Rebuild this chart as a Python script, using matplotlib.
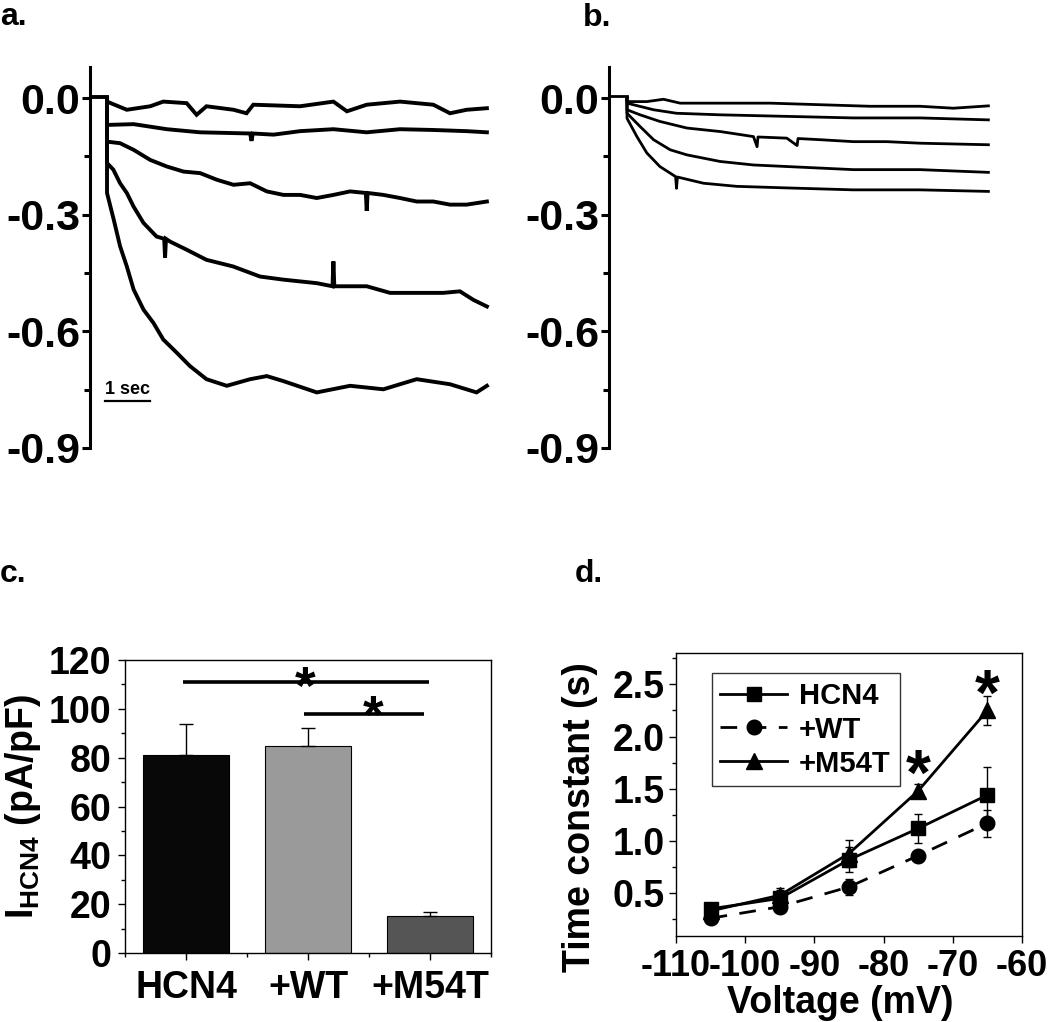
import numpy as np
import matplotlib
matplotlib.use("Agg")
import matplotlib.pyplot as plt
from matplotlib.ticker import MultipleLocator, FixedLocator

plt.rcParams['font.family'] = ['Liberation Sans', 'DejaVu Sans']
plt.rcParams['font.weight'] = 'bold'
plt.rcParams['axes.unicode_minus'] = False
plt.rcParams['mathtext.fontset'] = 'custom'
plt.rcParams['mathtext.rm'] = 'Liberation Sans:bold'
plt.rcParams['mathtext.bf'] = 'Liberation Sans:bold'

# ---------------- data ----------------
# panel a: current traces (time in s, current in nA), HCN4 alone
a_base_t = [-0.33, 0.0]
a_base_i = [0.004, 0.004]
a1_t = [0, 0, 0.44, 0.96, 1.25, 1.77, 1.99, 2.21, 2.81, 3.10, 3.25, 4.29, 5.03, 5.33, 5.77, 6.51, 7.25, 7.62, 7.99, 8.44]
a1_i = [0, -0.009, -0.030, -0.021, -0.009, -0.013, -0.043, -0.021, -0.030, -0.039, -0.017, -0.021, -0.009, -0.034, -0.017, -0.009, -0.017, -0.039, -0.030, -0.026]
a2_t = [0, 0, 0.59, 1.33, 2.07, 3.18, 3.21, 3.24, 3.70, 4.29, 5.03, 5.77, 6.51, 7.25, 7.99, 8.44]
a2_i = [0, -0.069, -0.067, -0.080, -0.088, -0.091, -0.110, -0.091, -0.094, -0.085, -0.080, -0.088, -0.080, -0.082, -0.085, -0.088]
a3_t = [0, 0, 0.29, 0.59, 0.96, 1.33, 1.70, 2.07, 2.44, 2.81, 3.18, 3.55, 3.92, 4.29, 4.66, 5.03, 5.40, 5.75, 5.77, 5.79, 6.14, 6.51, 6.88, 7.25, 7.62, 7.99, 8.44]
a3_i = [0, -0.112, -0.116, -0.133, -0.159, -0.176, -0.189, -0.193, -0.210, -0.223, -0.219, -0.240, -0.249, -0.249, -0.257, -0.249, -0.240, -0.244, -0.290, -0.244, -0.249, -0.257, -0.266, -0.266, -0.274, -0.274, -0.266]
a4_t = [0, 0, 0.14, 0.29, 0.44, 0.59, 0.81, 1.10, 1.27, 1.29, 1.31, 1.40, 1.77, 2.21, 2.80, 3.40, 3.92, 4.66, 5.01, 5.03, 5.05, 5.77, 6.29, 6.88, 7.47, 7.84, 8.14, 8.44]
a4_i = [0, -0.167, -0.184, -0.219, -0.244, -0.279, -0.321, -0.356, -0.362, -0.410, -0.362, -0.369, -0.390, -0.416, -0.433, -0.459, -0.467, -0.476, -0.484, -0.420, -0.484, -0.484, -0.501, -0.501, -0.501, -0.497, -0.519, -0.536]
a5_t = [0, 0, 0.15, 0.29, 0.44, 0.59, 0.81, 1.03, 1.25, 1.55, 1.84, 2.21, 2.66, 3.18, 3.55, 3.92, 4.66, 5.40, 6.14, 6.88, 7.62, 8.21, 8.44]
a5_i = [0, -0.244, -0.313, -0.381, -0.433, -0.492, -0.544, -0.578, -0.621, -0.655, -0.689, -0.723, -0.740, -0.723, -0.715, -0.728, -0.757, -0.740, -0.749, -0.723, -0.736, -0.757, -0.740]

# panel b: HCN4 + M54T
b_base_t = [-0.40, 0.0]
b_base_i = [0.005, 0.005]
b1_t = [0, 0, 0.44, 0.81, 1.18, 2.07, 3.18, 4.29, 5.40, 6.51, 7.25, 8.03]
b1_i = [0, -0.009, -0.009, -0.003, -0.013, -0.013, -0.013, -0.017, -0.021, -0.021, -0.026, -0.020]
b2_t = [0, 0, 0.59, 1.10, 2.07, 3.55, 5.03, 6.51, 8.03]
b2_i = [0, -0.013, -0.030, -0.039, -0.043, -0.047, -0.051, -0.051, -0.056]
b3_t = [0, 0, 0.29, 0.73, 1.33, 2.07, 2.81, 2.89, 2.91, 3.55, 3.78, 3.80, 4.29, 5.03, 5.77, 6.51, 8.03]
b3_i = [0, -0.030, -0.043, -0.060, -0.077, -0.086, -0.099, -0.125, -0.100, -0.103, -0.122, -0.104, -0.107, -0.112, -0.112, -0.116, -0.120]
b4_t = [0, 0, 0.29, 0.59, 0.96, 1.33, 2.07, 2.81, 3.55, 5.03, 6.51, 8.03]
b4_i = [0, -0.039, -0.073, -0.107, -0.133, -0.146, -0.163, -0.172, -0.176, -0.184, -0.184, -0.191]
b5_t = [0, 0, 0.22, 0.44, 0.73, 1.08, 1.10, 1.12, 1.70, 2.44, 3.55, 5.03, 6.51, 8.03]
b5_i = [0, -0.052, -0.099, -0.141, -0.176, -0.202, -0.232, -0.203, -0.219, -0.227, -0.231, -0.236, -0.236, -0.240]

# panel c: current density
groups = ['HCN4', '+WT', '+M54T']
density = [81.0, 84.8, 15.2]
density_err = [12.7, 7.4, 1.4]
bar_colors = ['#080808', '#9a9a9a', '#555555']

# panel d: activation time constants
voltage = [-105, -95, -85, -75, -65]
tau_hcn4 = [0.35, 0.45, 0.82, 1.12, 1.44]
tau_hcn4_err = [0.05, 0.08, 0.12, 0.14, 0.27]
tau_wt = [0.26, 0.37, 0.56, 0.86, 1.17]
tau_wt_err = [0.03, 0.04, 0.08, 0.03, 0.13]
tau_m54t = [0.33, 0.48, 0.88, 1.48, 2.25]
tau_m54t_err = [0.04, 0.07, 0.13, 0.07, 0.14]

W, H = 1050, 1022
fig = plt.figure(figsize=(W / 100, H / 100), dpi=100)


def px_axes(left, top, right, bottom):
    return fig.add_axes([left / W, 1 - bottom / H, (right - left) / W, (bottom - top) / H])


def star(ax, x, y, fs):
    # asterisk glyph sits high, shift it down so its centre lands on (x, y)
    ax.annotate('*', (x, y), xytext=(0, -0.6 * fs), textcoords='offset points',
                ha='center', va='baseline', fontsize=fs, fontweight='bold')


def trace_axes(ax, xlim):
    ax.set_xlim(*xlim)
    ax.set_ylim(-0.9, 0.08)
    for s in ['top', 'right', 'bottom']:
        ax.spines[s].set_visible(False)
    ax.spines['left'].set_linewidth(2.2)
    ax.set_xticks([])
    ax.yaxis.set_major_locator(FixedLocator([0.0, -0.3, -0.6, -0.9]))
    ax.yaxis.set_minor_locator(FixedLocator([-0.15, -0.45, -0.75]))
    ax.set_yticklabels(['0.0', '-0.3', '-0.6', '-0.9'])
    ax.tick_params(axis='y', which='major', length=6, width=2.2, pad=1, labelsize=31)
    ax.tick_params(axis='y', which='minor', length=4, width=2.2)


# ---------------- a ----------------
ax_a = px_axes(90, 67, 495, 448)
trace_axes(ax_a, (-0.378, 8.62))
ax_a.plot(a_base_t, a_base_i, color='black', lw=2.8)
for t, i in [(a1_t, a1_i), (a2_t, a2_i), (a3_t, a3_i), (a4_t, a4_i), (a5_t, a5_i)]:
    ax_a.plot(t, i, color='black', lw=2.8, solid_joinstyle='miter')
# 1 s scale bar
ax_a.plot([-0.04, 0.96], [-0.778, -0.778], color='black', lw=1.6)
ax_a.text(0.46, -0.772, '1 sec', ha='center', va='bottom', fontsize=13, fontweight='bold')

# ---------------- b ----------------
ax_b = px_axes(609, 67, 1010, 448)
trace_axes(ax_b, (-0.4, 8.51))
ax_b.plot(b_base_t, b_base_i, color='black', lw=2.0)
for t, i in [(b1_t, b1_i), (b2_t, b2_i), (b3_t, b3_i), (b4_t, b4_i), (b5_t, b5_i)]:
    ax_b.plot(t, i, color='black', lw=2.0)

# ---------------- c ----------------
ax_c = px_axes(125, 660, 491, 953)
pos = np.arange(1, len(groups) + 1)
ax_c.bar(pos, density, width=0.7, color=bar_colors, edgecolor='black', linewidth=0.8, zorder=2)
ax_c.errorbar(pos, density, yerr=[np.zeros(len(density)), density_err], fmt='none',
              ecolor='black', elinewidth=1, capsize=5, capthick=1, zorder=3)
ax_c.set_xlim(0.5, 3.5)
ax_c.set_ylim(0, 120)
ax_c.set_xticks(pos)
ax_c.set_xticklabels(groups)
ax_c.xaxis.set_minor_locator(FixedLocator([0.5, 1.5, 2.5, 3.5]))
ax_c.yaxis.set_major_locator(MultipleLocator(20))
ax_c.yaxis.set_minor_locator(MultipleLocator(10))
ax_c.tick_params(axis='both', which='major', length=5, width=1, labelsize=27)
ax_c.tick_params(axis='both', which='minor', length=3, width=1)
ax_c.tick_params(axis='x', pad=7)
ax_c.tick_params(axis='y', pad=5)
for s in ax_c.spines.values():
    s.set_linewidth(1)
ax_c.set_ylabel(r'$\mathrm{I_{HCN4}}$ (pA/pF)', fontsize=27, fontweight='bold')
ax_c.yaxis.set_label_coords(-0.225, 0.5)
ax_c.plot([0.975, 2.99], [111, 111], color='black', lw=2.6, solid_capstyle='butt')
ax_c.plot([1.97, 2.95], [98, 98], color='black', lw=2.6, solid_capstyle='butt')
star(ax_c, 1.98, 115, 38)
star(ax_c, 2.53, 103, 38)

# ---------------- d ----------------
ax_d = px_axes(676, 653, 1022, 936)
ax_d.errorbar(voltage, tau_wt, yerr=tau_wt_err, color='black', lw=2.0, dashes=(6, 4.5),
              marker='o', ms=10.5, elinewidth=1, capsize=3, capthick=1, label='+WT')
ax_d.errorbar(voltage, tau_hcn4, yerr=tau_hcn4_err, color='black', lw=2.0,
              marker='s', ms=9.5, elinewidth=1, capsize=3, capthick=1, label='HCN4')
ax_d.errorbar(voltage, tau_m54t, yerr=tau_m54t_err, color='black', lw=2.0,
              marker='^', ms=11, elinewidth=1, capsize=3, capthick=1, label='+M54T')
ax_d.set_xlim(-110, -60)
ax_d.set_ylim(0.09, 2.8)
ax_d.xaxis.set_major_locator(MultipleLocator(10))
ax_d.yaxis.set_major_locator(FixedLocator([0.5, 1.0, 1.5, 2.0, 2.5]))
ax_d.yaxis.set_minor_locator(FixedLocator([0.25, 0.75, 1.25, 1.75, 2.25, 2.75]))
ax_d.tick_params(axis='both', which='major', length=5, width=1, labelsize=27)
ax_d.tick_params(axis='x', labelsize=26, pad=4)
ax_d.tick_params(axis='both', which='minor', length=3, width=1)
ax_d.tick_params(axis='y', pad=3)
for s in ax_d.spines.values():
    s.set_linewidth(1)
ax_d.set_xlabel('Voltage (mV)', fontsize=27, fontweight='bold')
ax_d.xaxis.set_label_coords(0.474, -0.172)
ax_d.xaxis.label.set_va('top')
ax_d.set_ylabel('Time constant (s)', fontsize=27, fontweight='bold')
ax_d.yaxis.set_label_coords(-0.225, 0.42)
star(ax_d, -75, 1.81, 46)
star(ax_d, -65, 2.58, 46)

handles, labels = ax_d.get_legend_handles_labels()
order = [1, 0, 2]
leg = ax_d.legend([handles[k][0] for k in order], [labels[k] for k in order],
                  loc='upper left', bbox_to_anchor=(0.103, 0.929), borderaxespad=0,
                  fontsize=21, frameon=True, fancybox=False, handlelength=2.3,
                  handletextpad=0.4, labelspacing=0.2, borderpad=0.3, numpoints=1)
leg.get_frame().set_edgecolor('black')
leg.get_frame().set_linewidth(1)

# panel letters
for lbl, x, y in [('a.', 0, 25), ('b.', 583, 26), ('c.', 0, 582), ('d.', 575, 582)]:
    fig.text(x / W, 1 - y / H, lbl, ha='left', va='baseline', fontsize=23, fontweight='bold')

fig.savefig('out.png', dpi=100)
